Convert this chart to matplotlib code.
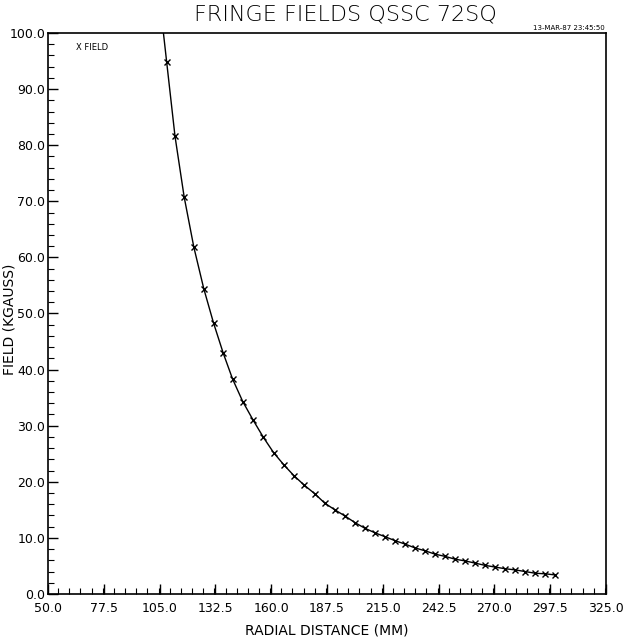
import matplotlib.pyplot as plt
from matplotlib.ticker import MultipleLocator, FormatStrFormatter

# radial distance (mm) and field values
radial_distance = [103.8, 108.5, 112.6, 117.1, 121.9, 126.8, 131.6, 136.4, 141.0, 146.0,
                   151.1, 156.2, 161.2, 166.3, 171.2, 176.3, 181.4, 186.4, 191.4, 196.4,
                   201.4, 206.3, 211.2, 216.2, 221.1, 226.0, 231.0, 235.9, 240.8, 245.8,
                   250.7, 255.6, 260.6, 265.5, 270.4, 275.4, 280.3, 285.2, 290.2, 295.1,
                   300.0]
field = [110.0, 94.8, 81.6, 70.8, 61.8, 54.4, 48.3, 42.9, 38.3, 34.3,
         31.0, 27.9, 25.2, 23.0, 21.1, 19.4, 17.9, 16.2, 15.0, 13.9,
         12.7, 11.7, 10.9, 10.2, 9.5, 8.9, 8.2, 7.7, 7.1, 6.7,
         6.2, 5.9, 5.5, 5.1, 4.8, 4.5, 4.3, 4.0, 3.7, 3.6,
         3.4]

x_ticks = [50.0, 77.5, 105.0, 132.5, 160.0, 187.5, 215.0, 242.5, 270.0, 297.5, 325.0]
y_ticks = [0, 10, 20, 30, 40, 50, 60, 70, 80, 90, 100]

fig = plt.figure(figsize=(6.33, 6.39), dpi=100)
ax = fig.add_axes([0.0758, 0.0704, 0.8815, 0.878])

# the curve with x markers
ax.plot(radial_distance, field, color='black', linewidth=1.0,
        marker='x', markersize=5, markeredgewidth=1.0)

ax.set_xlim(50, 325)
ax.set_ylim(0, 100)
ax.set_xticks(x_ticks)
ax.set_yticks(y_ticks)
ax.xaxis.set_major_formatter(FormatStrFormatter('%.1f'))
ax.yaxis.set_major_formatter(FormatStrFormatter('%.1f'))
ax.xaxis.set_minor_locator(MultipleLocator(5.5))
ax.yaxis.set_minor_locator(MultipleLocator(2))
ax.tick_params(which='major', direction='in', length=7, width=1, labelsize=9,
               top=False, right=False)
ax.tick_params(which='minor', direction='in', length=4, width=0.8,
               top=False, right=False)
ax.tick_params(axis='x', pad=6)
ax.tick_params(axis='y', pad=2)
for spine in ax.spines.values():
    spine.set_linewidth(1.2)

# labels and title
ax.set_xlabel('RADIAL DISTANCE (MM)', fontsize=10, labelpad=6)
fig.text(0.015, 0.50, 'FIELD (KGAUSS)', fontsize=10, rotation=90,
         ha='center', va='center')
fig.text(0.545, 0.977, 'FRINGE FIELDS QSSC 72SQ', fontsize=16,
         ha='center', va='center', fontweight='light')
fig.text(0.955, 0.951, '13-MAR-87 23:45:50', fontsize=5, ha='right', va='bottom')

# legend entry
ax.text(0.05, 0.982, 'X FIELD', fontsize=6, transform=ax.transAxes, va='top')

fig.savefig('out.png', dpi=100)
